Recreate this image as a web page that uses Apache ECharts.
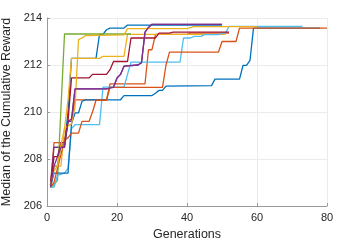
<!DOCTYPE html>
<html><head><meta charset="utf-8">
<script src="https://cdn.jsdelivr.net/npm/echarts@6/dist/echarts.min.js"></script>
<style>html,body{margin:0;padding:0;background:#fff}#c{width:361px;height:241px}</style>
</head><body><div id="c"></div>
<script>
// [generation, median cumulative reward]
const blueFast   = [[1,206.9],[2,207.7],[3,207.7],[4,208.6],[5,208.6],[6,210.0],[7,212.28],[14,212.28],[15,213.3],[16,213.3],[17,213.5],[18,213.57],[22,213.57],[23,213.7],[50,213.7]];
const orangeMid  = [[1,206.9],[2,208.7],[5,208.7],[6,209.6],[7,209.6],[8,210.52],[17,210.52],[18,211.2],[28,211.2],[29,212.65],[30,212.65],[31,213.3],[40,213.3],[41,213.36],[52,213.36]];
const yellowA    = [[1,207.0],[2,207.7],[4,207.7],[5,209.3],[6,210.5],[7,212.28],[15,212.28],[16,212.37],[22,212.37],[23,213.3],[51,213.3]];
const purpleA    = [[1,206.9],[2,208.5],[5,208.5],[6,209.6],[7,209.6],[8,210.98],[17,210.98],[18,211.05],[19,211.05],[20,211.45],[21,211.6],[22,211.95],[26,212.0],[27,212.1],[28,213.4],[29,213.6],[30,213.73],[50,213.73]];
const green      = [[1,206.8],[2,206.9],[3,207.1],[4,210.2],[5,213.32],[24,213.32]];
const lightBlue  = [[1,206.8],[2,206.8],[3,207.3],[5,207.4],[6,207.6],[7,209.3],[8,209.46],[15,209.46],[16,211.06],[22,211.06],[23,211.6],[24,212.12],[38,212.12],[39,213.15],[41,213.15],[42,213.22],[44,213.22],[45,213.29],[49,213.29],[50,213.36],[51,213.36],[52,213.64],[73,213.64]];
const darkRed    = [[1,206.9],[2,208.1],[3,208.1],[4,208.7],[5,208.7],[6,209.6],[7,211.45],[12,211.45],[13,211.6],[17,211.6],[18,211.8],[19,212.15],[23,212.15],[24,213.15],[31,213.15],[32,213.36],[35,213.36],[36,213.4],[52,213.4]];
const blueLate   = [[1,206.8],[2,207.4],[6,207.4],[7,209.5],[8,209.96],[9,209.96],[10,210.45],[11,210.52],[21,210.52],[22,210.7],[30,210.7],[31,210.8],[32,210.92],[33,210.92],[34,211.1],[47,211.12],[48,211.4],[55,211.4],[56,211.98],[57,211.98],[58,212.2],[59,213.57],[78,213.57]];
const orangeLate = [[1,206.8],[2,207.0],[3,207.6],[4,208.2],[5,208.8],[6,208.9],[7,209.1],[9,209.1],[10,209.6],[12,209.6],[13,210.0],[14,210.5],[17,210.5],[18,211.05],[33,211.05],[34,212.0],[35,212.55],[49,212.55],[50,213.0],[54,213.0],[55,213.57],[80,213.57]];
const yellowB    = [[1,206.9],[2,207.5],[3,207.7],[4,208.6],[5,209.3],[6,209.4],[7,209.5],[8,210.2],[9,213.08],[10,213.15],[11,213.25],[22,213.28],[23,213.55],[40,213.55],[42,213.63],[60,213.63]];
const purpleB    = [[1,206.8],[2,207.7],[3,208.1],[4,208.5],[5,208.5],[6,209.6],[7,209.7],[8,210.98],[17,210.98],[19,211.05],[20,211.45],[21,211.6],[22,211.95],[26,212.0],[27,212.1],[28,213.4],[29,213.6],[30,213.73],[50,213.73]];

const seriesData = [blueFast, orangeMid, yellowA, purpleA, green, lightBlue, darkRed, blueLate, orangeLate, yellowB, purpleB];
const colors = ['#0072BD','#D95319','#EDB120','#7E2F8E','#77AC30','#4DBEEE','#A2142F','#0072BD','#D95319','#EDB120','#7E2F8E'];
const xTicks = [0,20,40,60,80];
const yTicks = [206,208,210,212,214];

const chart = echarts.init(document.getElementById('c'), null, {renderer:'canvas'});
const font = 'Liberation Sans, Arial, sans-serif';
chart.setOption({
  animation:false,
  grid:{left:47,right:34,top:18,bottom:35,containLabel:false,outerBoundsMode:'none'},
  xAxis:{type:'value',min:xTicks[0],max:xTicks[xTicks.length-1],interval:20,
    name:'Generations',nameLocation:'middle',nameGap:22,
    nameTextStyle:{fontFamily:font,fontSize:12.5,color:'#262626'},
    axisLine:{lineStyle:{color:'#999999',width:1}},
    axisTick:{inside:true,length:3,lineStyle:{color:'#999999'}},
    axisLabel:{fontFamily:font,fontSize:11,color:'#262626',margin:6},
    splitLine:{show:true,lineStyle:{color:'#ebebeb',width:1}}},
  yAxis:{type:'value',min:yTicks[0],max:yTicks[yTicks.length-1],interval:2,
    name:'Median of the Cumulative Reward',nameLocation:'middle',nameGap:28,
    nameTextStyle:{fontFamily:font,fontSize:12.5,color:'#262626'},
    axisLine:{show:true,lineStyle:{color:'#999999',width:1}},
    axisTick:{show:true,inside:true,length:3,lineStyle:{color:'#999999'}},
    axisLabel:{fontFamily:font,fontSize:11,color:'#262626',margin:5},
    splitLine:{show:true,lineStyle:{color:'#ebebeb',width:1}}},
  series: seriesData.map((d,i)=>({type:'line',data:d,showSymbol:false,symbol:'none',
    lineStyle:{color:colors[i],width:1.3},itemStyle:{color:colors[i]},z:2+i}))
});
</script></body></html>
